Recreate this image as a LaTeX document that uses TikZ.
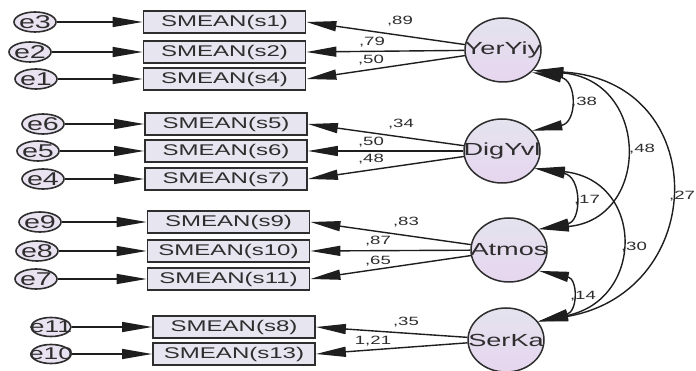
\documentclass[tikz,border=0pt]{standalone}
\usepackage{fontspec}
\newfontfamily\diagfont[FakeStretch=1.55]{Liberation Sans}
\usetikzlibrary{arrows.meta,shapes.geometric}
\definecolor{inkgray}{HTML}{2E2E2E}
\definecolor{linegray}{HTML}{1E1E1E}
\definecolor{boxfill}{HTML}{E7E5F0}
\definecolor{lattop}{HTML}{E4E3EE}
\definecolor{latbottom}{HTML}{E6D6EF}
\definecolor{errfill}{HTML}{E9E3F1}
\begin{document}
\begin{tikzpicture}[x=1pt,y=-1pt,
  obs/.style={draw=inkgray, line width=1.8pt, fill=boxfill, inner sep=0pt,
    minimum width=162pt, minimum height=22pt, text=inkgray,
    font=\diagfont\fontsize{15.5}{16}\selectfont},
  lattext/.style={inner sep=0pt, text=inkgray, font=\diagfont\fontsize{17.5}{18}\selectfont},
  latent/.style={ellipse, draw=inkgray, line width=1.5pt, top color=lattop,
    bottom color=latbottom, inner sep=0pt,
    minimum width=76pt, minimum height=64pt, label={[lattext]center:#1}},
  errtext/.style={inner sep=0pt, text=inkgray, font=\diagfont\fontsize{18.5}{19}\selectfont},
  err/.style={ellipse, draw=inkgray, line width=1.6pt, fill=errfill, inner sep=0pt,
    minimum width=42pt, minimum height=20pt, label={[errtext]center:#1}},
  smallerr/.style={ellipse, draw=inkgray, line width=1.6pt, fill=errfill, inner sep=0pt,
    minimum width=40pt, minimum height=19pt,
    label={[errtext, font=\diagfont\fontsize{17}{17}\selectfont]center:#1}},
  regarrow/.style={draw=linegray, line width=1.4pt, -{Triangle[length=30pt,width=10pt]}},
  covarrow/.style={draw=linegray, line width=1.4pt,
    {Triangle[length=30pt,width=10pt]}-{Triangle[length=30pt,width=10pt]}},
  coef/.style={inner sep=0pt, text=inkgray, font=\diagfont\fontsize{12}{12}\selectfont}]

% canvas
\fill[white] (0,0) rectangle (696,371);
\useasboundingbox (0,0) rectangle (696,371);

% observed indicators
\node[obs] (s1)  at (224.5,22)  {SMEAN(s1)};
\node[obs] (s2)  at (224.5,52)  {SMEAN(s2)};
\node[obs] (s4)  at (224.5,79)  {SMEAN(s4)};
\node[obs] (s5)  at (226,124)   {SMEAN(s5)};
\node[obs] (s6)  at (226,151)   {SMEAN(s6)};
\node[obs] (s7)  at (226,179)   {SMEAN(s7)};
\node[obs] (s9)  at (228.5,222) {SMEAN(s9)};
\node[obs] (s10) at (228.5,251) {SMEAN(s10)};
\node[obs] (s11) at (228.5,279) {SMEAN(s11)};
\node[obs] (s8)  at (234,327)   {SMEAN(s8)};
\node[obs] (s13) at (234,354)   {SMEAN(s13)};

% error terms
\node[err=e3] (e3) at (35,22) {};
\node[err=e2] (e2) at (30,52) {};
\node[err=e1] (e1) at (36,79) {};
\node[err=e6] (e6) at (43,124) {};
\node[err=e5] (e5) at (38,151) {};
\node[err=e4] (e4) at (43,179) {};
\node[err=e9] (e9) at (40,222) {};
\node[err=e8] (e8) at (37,251) {};
\node[err=e7] (e7) at (36,279) {};
\node[smallerr=e11] (e11) at (51,327) {};
\node[smallerr=e10] (e10) at (51,354) {};

% latent factors
\node[latent=YerYiy] (Y) at (503,50)  {};
\node[latent=DigYvl] (D) at (502,151) {};
\node[latent=Atmos]  (A) at (509,250) {};
\node[latent=SerKa]  (S) at (506,340) {};

% error paths
\foreach \e/\s in {e3/s1,e2/s2,e1/s4,e6/s5,e5/s6,e4/s7,e9/s9,e8/s10,e7/s11,e11/s8,e10/s13}
  \draw[regarrow] (\e) -- (\s.west);

% factor loadings
\foreach \f/\s in {Y/s1,Y/s2,Y/s4,D/s5,D/s6,D/s7,A/s9,A/s10,A/s11,S/s8,S/s13}
  \draw[regarrow] (\f) -- (\s.east);

% covariances
\draw[covarrow] (Y.-38) .. controls +(46,8) and +(45,-8) .. (D.34);
\draw[covarrow] (Y.-34) .. controls +(117,10) and +(112,-10) .. (A.35);
\draw[covarrow] (Y.-34) .. controls +(179,10) and +(172,-30) .. (S.30);
\draw[covarrow] (D.-28) .. controls +(47,8) and +(43,-8) .. (A.35);
\draw[covarrow] (D.-28) .. controls +(110,12) and +(107,-22) .. (S.30);
\draw[covarrow] (A.-35) .. controls +(39,8) and +(40,-10) .. (S.30);

% loading estimates
\node[coef] (l1)  at (400,21)  {,89};
\node[coef] (l2)  at (372,42)  {,79};
\node[coef] (l3)  at (371,60)  {,50};
\node[coef] (l4)  at (401,124) {,34};
\node[coef] (l5)  at (371,142) {,50};
\node[coef] (l6)  at (371,159) {,48};
\node[coef] (l7)  at (406,222) {,83};
\node[coef] (l8)  at (378,241) {,87};
\node[coef] (l9)  at (378,261) {,65};
\node[coef] (l10) at (406,322) {,35};
\node[coef] (l11) at (373,341) {1,21};

% covariance estimates
\node[coef] (c1) at (584,102) {,38};
\node[coef] (c2) at (642,149) {,48};
\node[coef] (c3) at (682,196) {,27};
\node[coef] (c4) at (587,200) {,17};
\node[coef] (c5) at (634,247) {,30};
\node[coef] (c6) at (583,296) {,14};
\end{tikzpicture}
\end{document}
